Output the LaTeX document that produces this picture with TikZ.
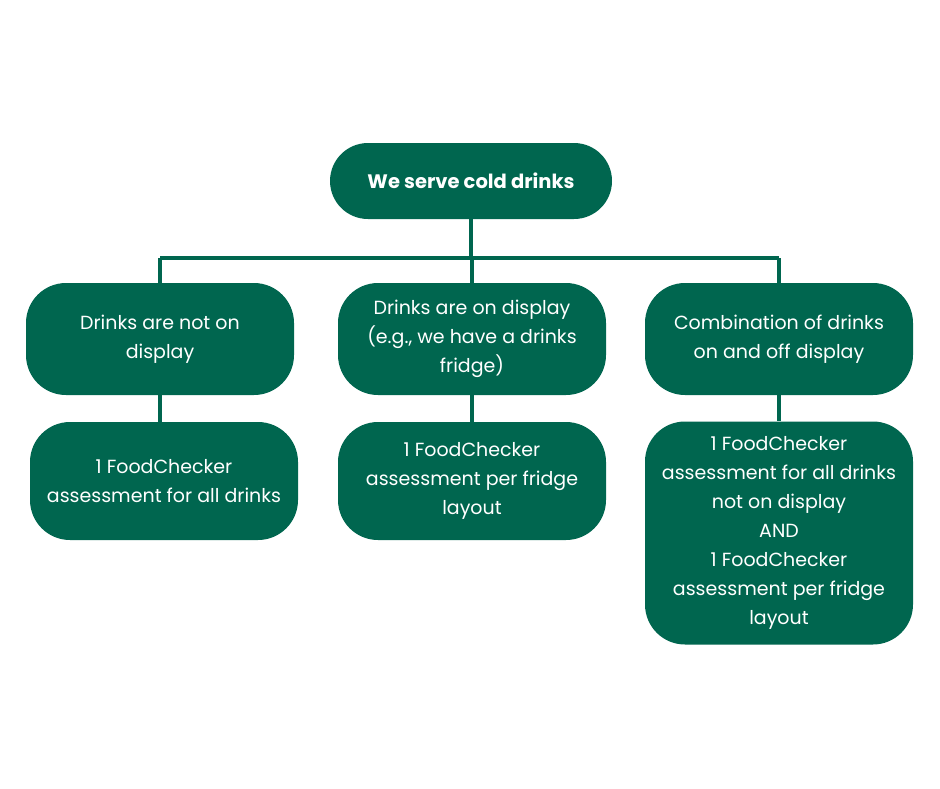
\documentclass[tikz,border=0pt]{standalone}
\usepackage{fontspec}
\setmainfont{Poppins}
\usepackage{tikz}
\usetikzlibrary{calc}
\usepackage{xcolor}
\definecolor{fcgreen}{HTML}{00664F}

\begin{document}
\begin{tikzpicture}[x=1pt, y=-1pt,
    every node/.style={font=\fontsize{19}{29}\selectfont, text=white},
    box/.style={fill=fcgreen, draw=none, rounded corners=40pt,
      minimum width=268pt, align=center, inner sep=0pt},
    link/.style={draw=fcgreen, line width=4.5pt}]
    \useasboundingbox (0, 0) rectangle (940, 788);

    % Top
    \node[box, minimum width=282pt, minimum height=76pt, rounded corners=38pt,
      font=\fontsize{19.5}{29}\selectfont\bfseries] (serve) at (471, 181)
      {We serve cold drinks};

    % Second row
    \node[box, minimum height=112pt] (notshown) at (160, 339)
      {Drinks are not on\\display};
    \node[box, minimum height=112pt] (shown) at (472, 339)
      {Drinks are on display\\(e.g., we have a drinks\\fridge)};
    \node[box, minimum height=112pt] (mixed) at (779, 339)
      {Combination of drinks\\on and off display};

    % Third row
    \node[box, minimum height=118pt] (checkall) at (164, 481)
      {1 FoodChecker\\assessment for all drinks};
    \node[box, minimum height=118pt] (checkfridge) at (472, 481)
      {1 FoodChecker\\assessment per fridge\\layout};
    \node[box, minimum height=223pt] (checkboth) at (779, 533)
      {1 FoodChecker\\assessment for all drinks\\not on display\\AND\\1 FoodChecker\\assessment per fridge\\layout};

    % Bus
    \coordinate (bus) at ($(serve.south) + (0, 39)$);
    \draw[link] (serve.south) -- (bus);
    \draw[link] (bus -| notshown.north) -- (bus -| mixed.north);
    \draw[link] (bus -| notshown.north) -- (notshown.north);
    \draw[link] (bus -| shown.north) -- (shown.north);
    \draw[link] (bus -| mixed.north) -- (mixed.north);

    % Down links
    \draw[link] (notshown.south) -- (checkall.north -| notshown.south);
    \draw[link] (shown.south) -- (checkfridge.north);
    \draw[link] (mixed.south) -- (checkboth.north);
  \end{tikzpicture}
\end{document}
